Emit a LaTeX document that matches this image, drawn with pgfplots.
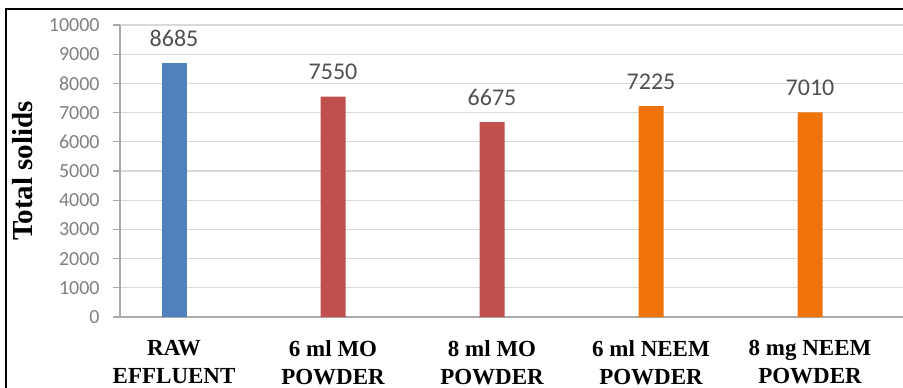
\documentclass[border=0pt]{standalone}
\usepackage{pgfplots}
\pgfplotsset{compat=1.18}
\usepackage{fontspec}
\setmainfont{Carlito}
\newfontfamily\tnr{Liberation Serif}

\definecolor{rawblue}{RGB}{79,129,189}
\definecolor{mored}{RGB}{192,80,77}
\definecolor{neemorange}{RGB}{240,115,10}
\definecolor{ticktext}{RGB}{128,128,128}
\definecolor{valtext}{RGB}{80,80,80}
\definecolor{gridgray}{RGB}{217,217,217}
\definecolor{axisgray}{RGB}{170,170,170}

\begin{document}
\begin{tikzpicture}
\useasboundingbox (0,0) rectangle (451.5pt,193.5pt);
% outer frame
\draw[line width=1pt] (2.75pt,-10pt) -- (2.75pt,189.25pt) -- (470pt,189.25pt);
\begin{axis}[
  at={(60pt,35pt)}, anchor=south west,
  scale only axis, width=391.5pt, height=146pt,
  ybar, bar width=12.5pt, bar shift=0pt,
  xmin=-0.34, xmax=4.585, ymin=0, ymax=10000,
  ytick={0,1000,...,10000},
  xtick={0,1,2,3,4},
  xticklabels={{RAW\\EFFLUENT},{6 ml MO\\POWDER},{8 ml MO\\POWDER},{6 ml NEEM\\POWDER},{8 mg NEEM\\POWDER}},
  axis x line*=bottom, axis y line*=left,
  axis line style={axisgray, line width=0.6pt},
  tick align=outside,
  xtick style={draw=none},
  ytick style={axisgray, line width=0.6pt},
  major tick length=3.5pt,
  ymajorgrids, major grid style={gridgray, line width=0.6pt},
  scaled y ticks=false,
  /pgf/number format/1000 sep={},
  /pgf/number format/assume math mode=true,
  yticklabel style={font=\fontsize{10}{12}\selectfont, text=ticktext, inner sep=0pt, xshift=-6.5pt},
  xticklabel style={font=\tnr\bfseries\fontsize{11.5}{14}\selectfont, align=center, anchor=north, inner sep=0pt, yshift=-8pt, text=black},
  ylabel={Total solids},
  every axis y label/.style={at={(rel axis cs:0,0.5)}, xshift=-44pt, rotate=90, anchor=base,
    font=\tnr\bfseries\fontsize{14.5}{16}\selectfont},
  nodes near coords,
  every node near coord/.append style={font=\fontsize{12}{14}\selectfont, text=valtext, inner sep=0pt, yshift=8pt},
]
\addplot[fill=rawblue, draw=none] coordinates {(0,8685)};
\addplot[fill=mored, draw=none] coordinates {(1,7550) (2,6675)};
\addplot[fill=neemorange, draw=none] coordinates {(3,7225) (4,7010)};
\end{axis}
\end{tikzpicture}
\end{document}
